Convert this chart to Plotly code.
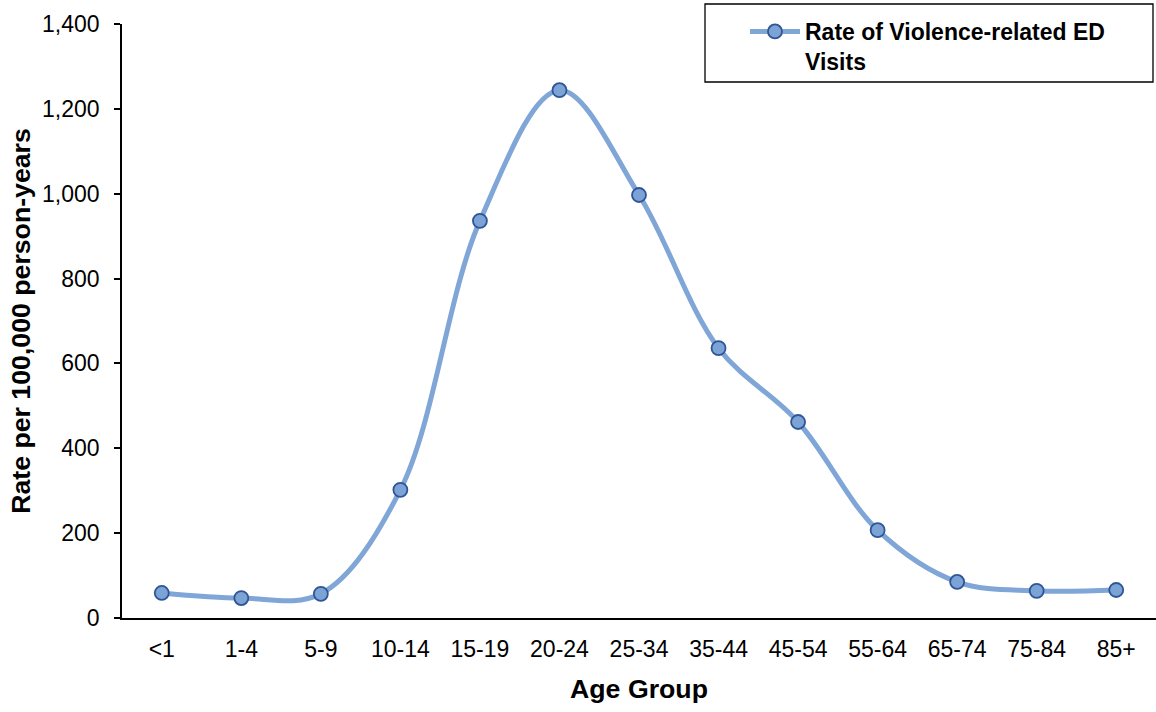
import plotly.graph_objects as go

age_groups = ["<1", "1-4", "5-9", "10-14", "15-19", "20-24", "25-34",
              "35-44", "45-54", "55-64", "65-74", "75-84", "85+"]
rates = [59, 47, 57, 302, 936, 1244, 997, 636, 462, 207, 85, 64, 66]
y_ticks = [0, 200, 400, 600, 800, 1000, 1200, 1400]
series_name = "Rate of Violence-related ED<br>Visits"

W, H = 1156, 712
L, R, T, B = 122, 0, 24, 94
pw, ph = W - L - R, H - T - B

fig = go.Figure()
fig.add_trace(go.Scatter(
    x=age_groups, y=rates, name=series_name, mode="lines+markers",
    line=dict(color="#7FA6D6", width=5, shape="spline", smoothing=1.0),
    marker=dict(size=14, color="#7BA3D5", line=dict(color="#2F5597", width=1.8)),
))

def px(xp):
    return (xp - L) / pw

def py(yp):
    return (H - B - yp) / ph

fig.add_shape(type="rect", xref="paper", yref="paper",
              x0=px(705), x1=px(1153), y0=py(82), y1=py(4),
              line=dict(color="black", width=1.3), fillcolor="white", layer="above")

fig.update_layout(
    width=W, height=H,
    margin=dict(l=L, r=R, t=T, b=B),
    paper_bgcolor="white", plot_bgcolor="white",
    font=dict(family="Liberation Sans, Arial, sans-serif", color="black"),
    showlegend=True,
    legend=dict(x=px(745), y=py(10), xanchor="left", yanchor="top",
                bgcolor="rgba(0,0,0,0)", borderwidth=0, valign="top",
                font=dict(size=23, family="Liberation Sans, Arial, sans-serif", color="black", weight="bold"),
                itemwidth=50),
    xaxis=dict(
        type="category", range=[-0.5, len(age_groups) - 0.5],
        showline=True, linecolor="black", linewidth=1.5,
        ticks="", showgrid=False, zeroline=False,
        tickfont=dict(size=23), ticklabelstandoff=10,
        title=dict(text="<b>Age Group</b>", font=dict(size=26.7), standoff=18),
    ),
    yaxis=dict(
        range=[0, 1400], tickvals=y_ticks, tickformat=",",
        showline=True, linecolor="black", linewidth=1.5,
        ticks="outside", ticklen=6, tickcolor="black", tickwidth=1.5,
        showgrid=False, zeroline=False,
        tickfont=dict(size=23), ticklabelstandoff=10,
        title=dict(text="<b>Rate per 100,000 person-years</b>", font=dict(size=26.7), standoff=4),
    ),
)

fig.write_html("out.html")
